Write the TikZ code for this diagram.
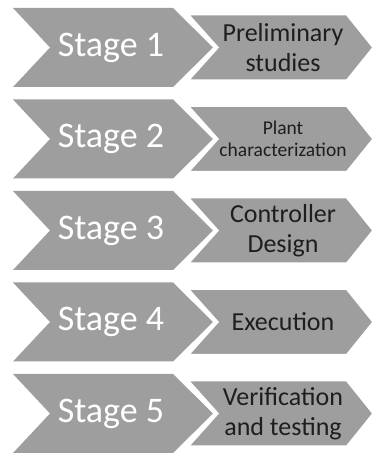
\documentclass[tikz,border=0pt]{standalone}
\usepackage{fontspec}
\setmainfont{Carlito}
\definecolor{chev}{RGB}{158,158,158}
\definecolor{txt}{RGB}{30,30,30}
\tikzset{
  bigchev/.style={fill=chev, draw=none},
  smallchev/.style={fill=chev, draw=white, line width=3pt, line join=miter},
  stagetxt/.style={text=white, font=\fontsize{36}{40}\selectfont, inner sep=0pt},
  desctxt/.style={text=txt, font=\fontsize{26}{30}\selectfont, align=center, inner sep=0pt},
  smalldesc/.style={text=txt, font=\fontsize{19.5}{22}\selectfont, align=center, inner sep=0pt}
}
\begin{document}
\begin{tikzpicture}[x=1pt,y=1pt]
\useasboundingbox (0,0) rectangle (375,456);
\foreach \i/\lab/\desc/\sty in {1/Stage 1/{Preliminary\\studies}/desctxt,
                                2/Stage 2/{Plant\\characterization}/smalldesc,
                                3/Stage 3/{Controller\\Design}/desctxt,
                                4/Stage 4/{Execution}/desctxt,
                                5/Stage 5/{Verification\\and testing}/desctxt}{
  \pgfmathsetmacro{\T}{456-8-(\i-1)*91.5}
  \pgfmathsetmacro{\B}{\T-79}
  \pgfmathsetmacro{\M}{\T-39.5}
  \pgfmathsetmacro{\ST}{\T-6}
  \pgfmathsetmacro{\SB}{\B+6}
  \fill[bigchev] (13,\T) -- (173,\T) -- (213,\M) -- (173,\B) -- (13,\B) -- (50,\M) -- cycle;
  \filldraw[smallchev] (187,\ST) -- (347,\ST) -- (374,\M) -- (347,\SB) -- (187,\SB) -- (217,\M) -- cycle;
  \node[stagetxt] (s\i) at (111,\M) {\lab};
  \node[\sty] (d\i) at (283,\M) {\desc};
}
\end{tikzpicture}
\end{document}
